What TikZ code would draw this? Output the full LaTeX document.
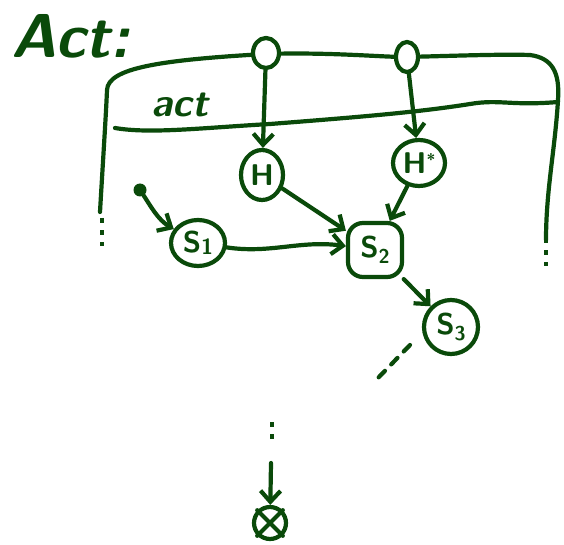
\documentclass[tikz,border=0pt]{standalone}
\usetikzlibrary{arrows.meta,shapes.geometric}
\definecolor{ink}{RGB}{10,74,10}
\tikzset{
  pen/.style={draw=ink, line width=4.2pt, line cap=round, line join=round},
  barb/.style={-{Straight Barb[length=11pt,width=20pt]}},
  statebox/.style={pen, ellipse, inner sep=0pt, text=ink, font=\sffamily\bfseries\fontsize{30}{30}\selectfont},
  port/.style={pen, ellipse, fill=white, minimum width=26pt, minimum height=30pt, inner sep=0pt},
  dots/.style={pen, line cap=butt, dash pattern=on 5pt off 7pt},
}
\begin{document}
\begin{tikzpicture}[x=1pt,y=-1pt]
\useasboundingbox (0,0) rectangle (564,545);

% title and region label
\node[text=ink, anchor=base west, font=\sffamily\bfseries\itshape\fontsize{62}{62}\selectfont] (title) at (8,58) {Act:};
\node[text=ink, anchor=base, font=\sffamily\bfseries\itshape\fontsize{40}{40}\selectfont] (region) at (180,117) {act};

% outer frame of the composite state
\coordinate (fl) at (100,212);
\coordinate (fr) at (546,240);
\draw[pen] (fl) .. controls (103,160) and (106,115) .. (107,90)
  .. controls (108,68) and (160,60) .. (265,54)
  .. controls (330,52) and (380,57) .. (405,57)
  .. controls (450,56) and (500,54) .. (530,55)
  .. controls (552,58) and (560,72) .. (558,100)
  .. controls (555,150) and (546,190) .. (fr);
% separator below the region label
\draw[pen] (115,128) .. controls (150,134) and (200,128) .. (270,124)
  .. controls (360,117) and (420,112) .. (470,104)
  .. controls (500,99) and (510,106) .. (558,102);
% the frame continues
\draw[dots] (102,218) -- (102,246);
\draw[dots] (546,238) -- (546,266);

% ports on the frame
\node[port] (p1) at (266,53) {};
\node[port, minimum width=22pt, minimum height=30pt] (p2) at (407,57) {};

% states
\node[statebox, minimum width=42pt, minimum height=50pt] (h) at (262,175) {H};
\node[statebox, minimum width=52pt, minimum height=46pt] (hs) at (419,163) {H\raisebox{8pt}{\fontsize{16}{16}\selectfont*}};
\node[statebox, rounded corners=15pt, rectangle, minimum width=54pt, minimum height=54pt] (s2) at (375,250) {S\raisebox{-6pt}{\fontsize{20}{20}\selectfont 2}};
\node[statebox, minimum width=54pt, minimum height=46pt] (s1) at (198,243) {S\raisebox{-2pt}{\fontsize{22}{22}\selectfont 1}};
\node[statebox, circle, minimum size=54pt] (s3) at (451,327) {S\raisebox{-6pt}{\fontsize{20}{20}\selectfont 3}};

% initial and final pseudostates
\node[fill=ink, circle, inner sep=0pt, minimum size=13pt] (init) at (140,190) {};
\node[pen, circle, inner sep=0pt, minimum size=32pt] (fin) at (270,523) {};
\draw[pen] (fin.north west) -- (fin.south east);
\draw[pen] (fin.north east) -- (fin.south west);

% transitions
\draw[pen, barb] (p1) -- (h);
\draw[pen, barb] (p2) -- (hs);
\draw[pen, barb] (init) .. controls (150,205) and (158,220) .. (s1);
\draw[pen, barb] (s1) .. controls (270,254) and (300,240) .. (s2);
\draw[pen, barb] (h) -- (s2);
\draw[pen, barb] (hs) -- (s2);
\draw[pen, barb] (s2) -- (s3);
\coordinate (more) at (378,378);
\draw[pen, dash pattern=on 9pt off 9pt] (410,345) -- (more);
\coordinate (up) at (272,422);
\draw[dots] (up) -- (272,440);
\coordinate (tail) at (271,463);
\draw[pen, barb] (tail) -- (fin);
\end{tikzpicture}
\end{document}
